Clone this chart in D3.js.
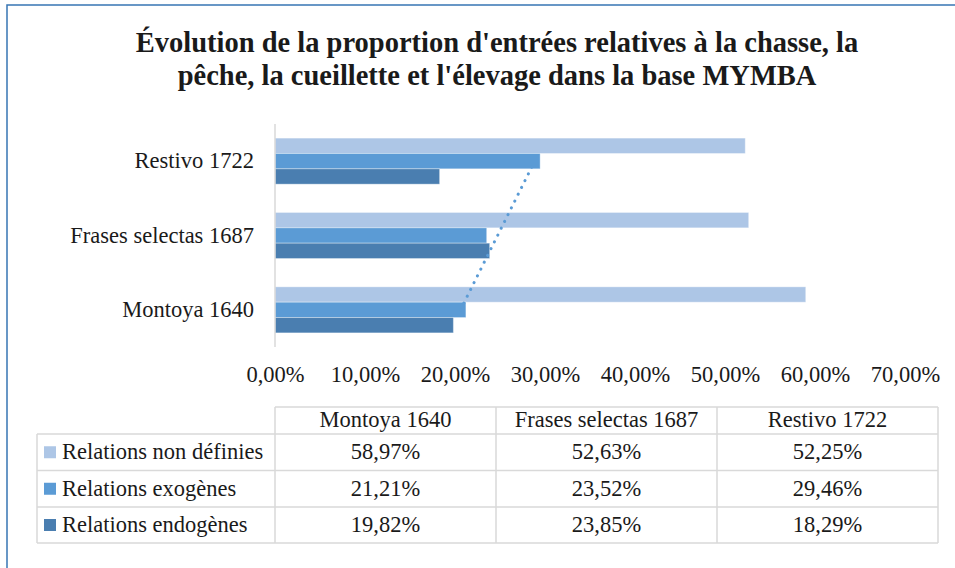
<!DOCTYPE html>
<html>
<head>
<meta charset="utf-8">
<script src="https://cdn.jsdelivr.net/npm/d3@7"></script>
<style>
  html, body { margin: 0; padding: 0; background: #fff; }
  svg { display: block; }
  text { font-family: "Liberation Serif", "DejaVu Serif", serif; fill: #1a1a1a; }
</style>
</head>
<body>
<svg id="chart" width="955" height="568"></svg>
<script>
// ---- data ----
const titleLines = [
  "Évolution de la proportion d'entrées relatives à la chasse, la",
  "pêche, la cueillette et l'élevage dans la base MYMBA"
];
const categories = ["Montoya 1640", "Frases selectas 1687", "Restivo 1722"];
const seriesNames = ["Relations non définies", "Relations exogènes", "Relations endogènes"];
const nonDefinies = [0.5897, 0.5263, 0.5225];
const exogenes    = [0.2121, 0.2352, 0.2946];
const endogenes   = [0.1982, 0.2385, 0.1829];
const tickValues  = [0, 0.1, 0.2, 0.3, 0.4, 0.5, 0.6, 0.7];
const seriesColors = ["#adc6e6", "#5b9bd5", "#4a7eb0"];

const seriesValues = [nonDefinies, exogenes, endogenes];

const frLocale = d3.formatLocale({decimal: ",", thousands: " ", grouping: [3], currency: ["", " €"], percent: "%"});
const pct = frLocale.format(".2%");
const FS = 22.5;

const svg = d3.select("#chart");

// outer frame (document border)
svg.append("rect").attr("x", 7).attr("y", 5).attr("width", 1200).attr("height", 1200)
  .attr("fill", "none").attr("stroke", "#3776b4").attr("stroke-width", 1.5);

// title
const title = svg.append("g");
titleLines.forEach((t, i) => {
  title.append("text")
    .attr("x", 497).attr("y", 52 + i * 33)
    .attr("text-anchor", "middle")
    .attr("font-size", 28.5).attr("font-weight", "bold")
    .text(t);
});

// scales
const x = d3.scaleLinear().domain([0, 0.7]).range([275, 905]);
const y = d3.scaleBand().domain(categories.slice().reverse()).range([124, 347])
  .paddingInner(0.381).paddingOuter(0.19);
const ys = d3.scaleBand().domain(seriesNames).range([0, y.bandwidth()]);

// bars
seriesNames.forEach((s, si) => {
  svg.append("g").selectAll("rect")
    .data(categories.map((c, ci) => ({c, v: seriesValues[si][ci]})))
    .join("rect")
    .attr("x", x(0))
    .attr("y", d => y(d.c) + ys(s))
    .attr("width", d => x(d.v) - x(0))
    .attr("height", ys.bandwidth())
    .attr("fill", seriesColors[si])
    .attr("stroke", "#ffffff").attr("stroke-opacity", 0.35).attr("stroke-width", 1);
});

// vertical axis line
svg.append("line").attr("x1", x(0)).attr("x2", x(0)).attr("y1", 124).attr("y2", 347)
  .attr("stroke", "#d9d9d9").attr("stroke-width", 1.5);

// category labels
svg.append("g").selectAll("text").data(categories).join("text")
  .attr("x", 254).attr("y", d => y(d) + y.bandwidth() / 2)
  .attr("dy", "0.32em").attr("text-anchor", "end").attr("font-size", FS)
  .text(d => d);

// x axis
const xAxis = d3.axisBottom(x).tickValues(tickValues).tickFormat(pct).tickSize(0).tickPadding(0);
const gx = svg.append("g").attr("transform", "translate(0,366)").call(xAxis);
gx.select(".domain").remove();
gx.selectAll("text").attr("font-size", FS).attr("fill", "#1a1a1a")
  .style("font-family", '"Liberation Serif", serif');

// linear trend line for exogènes
const n = categories.length;
const xs = d3.range(1, n + 1);
const mx = d3.mean(xs), my = d3.mean(exogenes);
const slope = d3.sum(xs, (k, i) => (k - mx) * (exogenes[i] - my)) / d3.sum(xs, k => (k - mx) ** 2);
const icpt = my - slope * mx;
const trendPts = categories.map((c, i) => [x(icpt + slope * (i + 1)), y(c) + y.bandwidth() / 2]);
svg.append("path")
  .attr("d", d3.line()([trendPts[0], trendPts[n - 1]]))
  .attr("stroke", "#5b9bd5").attr("stroke-width", 3)
  .attr("stroke-linecap", "round").attr("stroke-dasharray", "0.1 7.5")
  .attr("fill", "none");

// data table
const tLeft = 37, tCol0 = 275, colW = 221;
const tRight = tCol0 + colW * n;
const rowTops = [407, 434, 470.5, 507, 543];
const tbl = svg.append("g");
const lineStyle = sel => sel.attr("stroke", "#d9d9d9").attr("stroke-width", 1.5);
tbl.append("line").attr("x1", tCol0).attr("x2", tRight).attr("y1", rowTops[0]).attr("y2", rowTops[0]).call(lineStyle);
rowTops.slice(1).forEach(yy => {
  tbl.append("line").attr("x1", tLeft).attr("x2", tRight).attr("y1", yy).attr("y2", yy).call(lineStyle);
});
tbl.append("line").attr("x1", tLeft).attr("x2", tLeft).attr("y1", rowTops[1]).attr("y2", rowTops[4]).call(lineStyle);
d3.range(n + 1).forEach(k => {
  tbl.append("line").attr("x1", tCol0 + k * colW).attr("x2", tCol0 + k * colW)
    .attr("y1", rowTops[0]).attr("y2", rowTops[4]).call(lineStyle);
});
categories.forEach((c, k) => {
  tbl.append("text").attr("x", tCol0 + k * colW + colW / 2).attr("y", (rowTops[0] + rowTops[1]) / 2)
    .attr("dy", "0.3em").attr("text-anchor", "middle").attr("font-size", FS).text(c);
});
seriesNames.forEach((s, si) => {
  const cy = (rowTops[si + 1] + rowTops[si + 2]) / 2;
  tbl.append("rect").attr("x", 44).attr("y", cy - 6).attr("width", 12).attr("height", 12)
    .attr("fill", seriesColors[si]);
  tbl.append("text").attr("x", 62).attr("y", cy).attr("dy", "0.3em").attr("font-size", FS).text(s);
  categories.forEach((c, k) => {
    tbl.append("text").attr("x", tCol0 + k * colW + colW / 2).attr("y", cy)
      .attr("dy", "0.3em").attr("text-anchor", "middle").attr("font-size", FS)
      .text(pct(seriesValues[si][k]));
  });
});
</script>
</body>
</html>
